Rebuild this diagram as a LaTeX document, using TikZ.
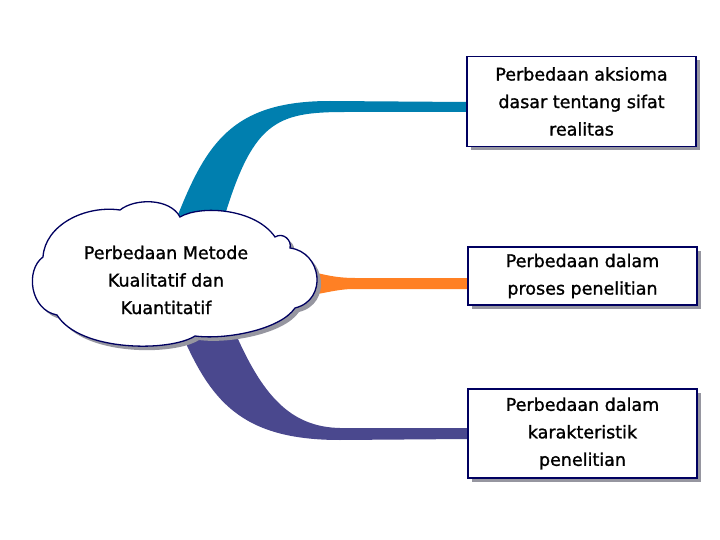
\documentclass[tikz,border=0pt]{standalone}
\usepackage{fontspec}
\setmainfont{DejaVu Sans}[BoldFont={DejaVu Sans}, BoldFeatures={FakeBold=1.2}]
\usetikzlibrary{shadows}
\definecolor{navy}{RGB}{0,0,96}
\definecolor{ribblue}{RGB}{0,127,175}
\definecolor{riborange}{RGB}{255,128,36}
\definecolor{ribpurple}{RGB}{74,72,142}
\definecolor{shadowgray}{RGB}{150,150,160}
\begin{document}
\begin{tikzpicture}[x=1pt,y=-1pt,
  txt/.style={font=\fontsize{17.5}{27.5}\selectfont\bfseries, align=center, text=black},
  box/.style={txt, draw=navy, line width=1.3pt, fill=white, inner sep=0pt,
    minimum width=229pt,
    drop shadow={shadow xshift=4pt, shadow yshift=-4pt, fill=shadowgray, opacity=1}},
  cloudline/.style={draw=navy, line width=1.3pt, fill=white}]
\useasboundingbox[fill=white] (0,0) rectangle (720,540);

% boxes (placed first so the ribbons can reach their anchors)
\node[box, minimum height=90pt] (b1) at (581.5,101.5) {Perbedaan aksioma\\dasar tentang sifat\\realitas};
\node[box, minimum height=58pt] (b2) at (582.5,276) {Perbedaan dalam\\proses penelitian};
\node[box, minimum height=89pt] (b3) at (582.5,433.5) {Perbedaan dalam\\karakteristik\\penelitian};

% ribbons
\fill[ribblue] (174,225) .. controls (205,145) and (230,101) .. (330,101)
  -- (b1.west |- 0,102) -- (b1.west |- 0,112) -- (345,112)
  .. controls (275,112) and (252,122) .. (222,225) -- cycle;
\fill[riborange] (300,271) -- (317,273) .. controls (330,276) and (340,278) .. (355,278)
  -- (b2.west |- 0,278) -- (b2.west |- 0,289) -- (350,289)
  .. controls (335,290) and (325,293) .. (317,294) -- (300,296) -- cycle;
\fill[ribpurple] (180,330) .. controls (210,400) and (240,440) .. (340,440)
  -- (b3.west |- 0,439) -- (b3.west |- 0,428) -- (340,428)
  .. controls (290,427) and (262,395) .. (234,330) -- cycle;

% cloud
\def\cloudpath{(43,257) .. controls (45,225) and (85,205) .. (120,210)
  .. controls (135,198) and (170,198) .. (180,217)
  .. controls (200,205) and (255,208) .. (275,237)
  .. controls (283,232) and (292,240) .. (290,248)
  .. controls (322,252) and (328,300) .. (295,308)
  .. controls (280,330) and (225,340) .. (195,336)
  .. controls (170,352) and (80,352) .. (57,315)
  .. controls (30,310) and (25,270) .. (43,257) -- cycle}
\fill[shadowgray, shift={(4,4)}] \cloudpath;
\path[cloudline] \cloudpath;
\node[txt] (c) at (166,280) {Perbedaan Metode\\Kualitatif dan\\Kuantitatif};

% boxes again, on top of the ribbon ends
\node[box, minimum height=90pt] at (b1) {Perbedaan aksioma\\dasar tentang sifat\\realitas};
\node[box, minimum height=58pt] at (b2) {Perbedaan dalam\\proses penelitian};
\node[box, minimum height=89pt] at (b3) {Perbedaan dalam\\karakteristik\\penelitian};
\end{tikzpicture}
\end{document}
